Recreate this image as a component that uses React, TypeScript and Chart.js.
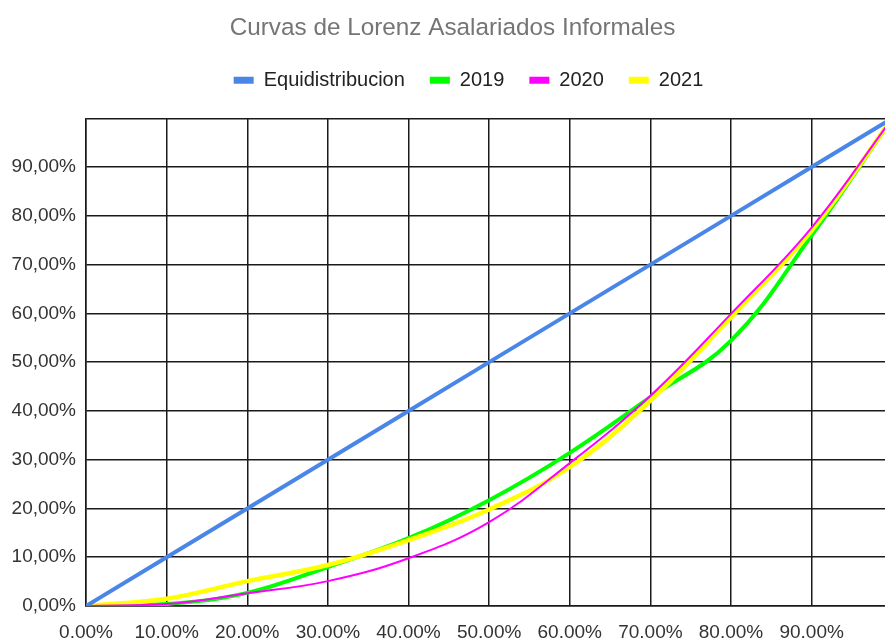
import React, { useEffect, useRef } from "react";
import { Chart, registerables } from "chart.js";

Chart.register(...registerables);

const TITLE = "Curvas de Lorenz Asalariados Informales";
const seriesNames = ["Equidistribucion", "2019", "2020", "2021"];
const seriesColors = ["#4a86e8", "#00ff00", "#ff00ff", "#ffff00"];
const seriesWidths = [4, 4, 2, 4.5];
const drawOrder = [0, 3, 1, 2];

const populationPct = [0, 10, 20, 30, 40, 50, 60, 70, 80, 90, 100];
const equidistribucion = [0, 10, 20, 30, 40, 50, 60, 70, 80, 90, 100];
const values2019 = [0, 0.4, 2.7, 8.0, 13.9, 21.7, 31.4, 42.8, 54.4, 76.0, 100];
const values2020 = [0, 0.4, 2.6, 5.1, 9.8, 17.2, 29.3, 43.1, 59.9, 77.6, 100];
const values2021 = [0, 1.5, 5.1, 8.4, 13.5, 19.8, 28.5, 42.1, 59.2, 77.0, 100];

const xTicks = [0, 10, 20, 30, 40, 50, 60, 70, 80, 90];
const yTicks = [0, 10, 20, 30, 40, 50, 60, 70, 80, 90];

const FONT = "'Liberation Sans', Arial, sans-serif";

const layoutTweaks = {
  id: "layoutTweaks",
  beforeLayout(chart: any) {
    const lg = chart.legend;
    if (lg && !lg.__patched) {
      const orig = lg.fit.bind(lg);
      lg.fit = () => {
        orig();
        lg.height += 18;
      };
      lg.__patched = true;
    }
  },
  afterLayout(chart: any) {
    const lg = chart.legend;
    if (lg) {
      lg.left += 26;
      lg.right += 26;
    }
    const t = chart.titleBlock;
    if (t) {
      t.left += 10;
      t.right += 10;
    }
  },
};

export default function App() {
  const ref = useRef<HTMLCanvasElement | null>(null);

  useEffect(() => {
    document.body.style.margin = "0";
    const canvas = ref.current;
    if (!canvas) return;
    const all = [equidistribucion, values2019, values2020, values2021];
    const datasets = all.map((vals, i) => ({
      label: seriesNames[i],
      data: populationPct.map((x, j) => ({ x, y: vals[j] })),
      borderColor: seriesColors[i],
      backgroundColor: seriesColors[i],
      borderWidth: seriesWidths[i],
      pointRadius: 0,
      pointHoverRadius: 0,
      tension: i === 0 ? 0 : 0.4,
      fill: false,
      order: drawOrder[i],
    }));

    const chart = new Chart(canvas, {
      type: "line",
      data: { datasets },
      plugins: [layoutTweaks],
      options: {
        responsive: false,
        animation: false,
        layout: { padding: { left: 0, right: 0, top: 0, bottom: 0 } },
        plugins: {
          title: {
            display: true,
            text: TITLE,
            color: "#757575",
            font: { family: FONT, size: 24.3, weight: "normal", lineHeight: 1.0 },
            padding: { top: 16, bottom: 5 },
          },
          legend: {
            display: true,
            position: "top",
            labels: {
              color: "#222222",
              font: { family: FONT, size: 20 },
              boxWidth: 20,
              boxHeight: 7,
              padding: 25,
              generateLabels: (c: any) => {
                const base = Chart.defaults.plugins.legend.labels.generateLabels(c);
                return base
                  .map((l: any) => ({
                    ...l,
                    lineWidth: 0,
                    fillStyle: seriesColors[l.datasetIndex],
                    strokeStyle: seriesColors[l.datasetIndex],
                  }))
                  .sort((a: any, b: any) => a.datasetIndex - b.datasetIndex);
              },
            },
          },
          tooltip: { enabled: false },
        },
        scales: {
          x: {
            type: "linear",
            min: 0,
            max: 99.1,
            afterBuildTicks: (scale: any) => {
              scale.ticks = xTicks.map((v) => ({ value: v }));
            },
            afterFit: (scale: any) => {
              scale.height = 34;
            },
            ticks: {
              includeBounds: false,
              color: "#333333",
              font: { family: FONT, size: 19 },
              padding: 15,
              maxRotation: 0,
              autoSkip: false,
              callback: (v: any) => `${Number(v).toFixed(2)}%`,
            },
            grid: { color: "#1a1a1a", lineWidth: 1.5, drawTicks: false },
            border: { color: "#1a1a1a", width: 1.5 },
          },
          y: {
            type: "linear",
            min: 0,
            max: 100,
            afterBuildTicks: (scale: any) => {
              scale.ticks = [...yTicks, 100].map((v) => ({ value: v }));
            },
            afterFit: (scale: any) => {
              scale.width = 86;
            },
            ticks: {
              color: "#333333",
              font: { family: FONT, size: 19 },
              padding: 10,
              autoSkip: false,
              callback: (v: any) =>
                Number(v) === 100 ? "" : `${Number(v).toFixed(2).replace(".", ",")}%`,
            },
            grid: { color: "#1a1a1a", lineWidth: 1.5, drawTicks: false },
            border: { color: "#1a1a1a", width: 1.5 },
          },
        },
      },
    });
    return () => chart.destroy();
  }, []);

  return (
    <div style={{ position: "absolute", left: 0, top: 0, width: 885, height: 640, background: "#fff" }}>
      <canvas ref={ref} width={885} height={640} />
    </div>
  );
}
